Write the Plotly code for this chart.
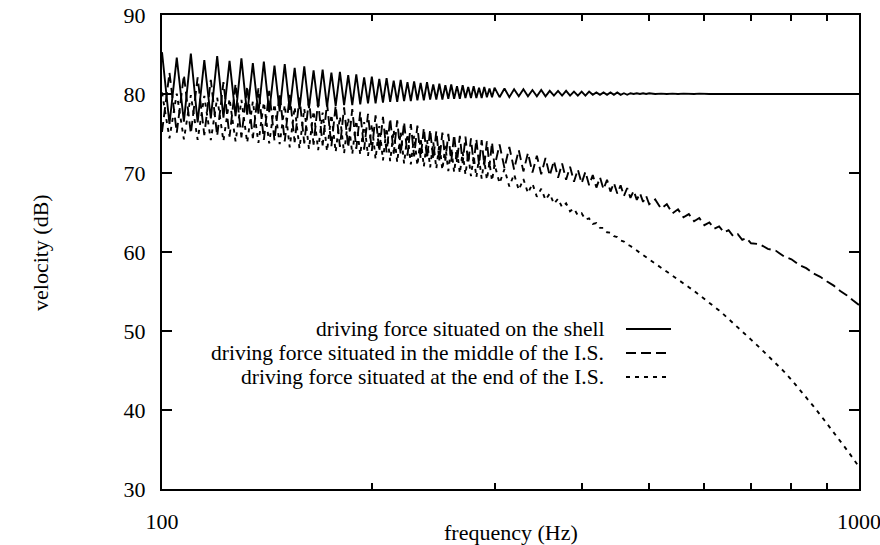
import plotly.graph_objects as go

# ---------------- data ----------------
freq = [
    100, 102.5, 105, 107.5, 110, 112.5, 115, 117.5, 120, 122.5,
    125, 127.5, 130, 132.5, 135, 137.5, 140, 142.5, 145, 147.5,
    150, 152.5, 155, 157.5, 160, 162.5, 165, 167.5, 170, 172.5,
    175, 177.5, 180, 182.5, 185, 187.5, 190, 192.5, 195, 197.5,
    200, 202.5, 205, 207.5, 210, 212.5, 215, 217.5, 220, 222.5,
    225, 227.5, 230, 232.5, 235, 237.5, 240, 242.5, 245, 247.5,
    250, 252.5, 255, 257.5, 260, 262.5, 265, 267.5, 270, 272.5,
    275, 277.5, 280, 282.5, 285, 287.5, 290, 292.5, 295, 297.5,
    300,
    305, 310, 315, 320, 325, 330, 335, 340, 345, 350,
    355, 360, 365, 370, 375, 380, 385, 390, 395, 400,
    405, 410, 415, 420, 425, 430, 435, 440, 445, 450,
    455, 460, 465, 470, 475, 480, 485, 490, 495, 500,
    510, 520, 530, 540, 550, 560, 570, 580, 590, 600,
    610, 620, 630, 640, 650, 660, 670, 680, 690, 700,
    720, 740, 760, 780, 800, 820, 840, 860, 880, 900,
    920, 940, 960, 980, 1000,
]

shell = [
    85.3, 76.2, 84.6, 76.5, 85.1, 76.4, 84.3, 76.9, 84.8, 77.0,
    84.2, 77.2, 84.5, 77.4, 83.9, 77.5, 84.1, 77.7, 83.6, 77.8,
    83.8, 78.0, 83.3, 78.1, 83.5, 78.2, 83.0, 78.3, 83.1, 78.4,
    82.7, 78.5, 82.8, 78.6, 82.4, 78.6, 82.5, 78.7, 82.1, 78.8,
    82.2, 78.8, 81.9, 78.9, 82.0, 79.0, 81.7, 79.0, 81.8, 79.1,
    81.5, 79.1, 81.6, 79.2, 81.4, 79.2, 81.5, 79.3, 81.2, 79.3,
    81.3, 79.3, 81.1, 79.4, 81.2, 79.4, 81.0, 79.4, 81.1, 79.5,
    80.9, 79.5, 81.0, 79.5, 80.8, 79.5, 80.9, 79.6, 80.7, 79.6,
    80.8,
    79.6, 80.7, 79.6, 80.6, 79.7, 80.6, 79.7, 80.5, 79.7, 80.5,
    79.7, 80.4, 79.8, 80.4, 79.8, 80.4, 79.8, 80.3, 79.8, 80.3,
    79.8, 80.3, 79.9, 80.2, 79.9, 80.2, 79.9, 80.2, 79.9, 80.2,
    79.9, 80.1, 79.9, 80.1, 80.0, 80.1, 80.0, 80.1, 80.0, 80.1,
    80.0, 80.05, 80.0, 80.05, 80.0, 80.05, 80.0, 80.0, 80.05, 80.0,
    80.0, 80.0, 80.0, 80.0, 80.0, 80.0, 80.0, 80.0, 80.0, 80.0,
    80.0, 80.0, 80.0, 80.0, 80.0, 80.0, 80.0, 80.0, 80.0, 80.0,
    80.0, 80.0, 80.0, 80.0, 80.0,
]

middle = [
    75.2, 82.7, 75.1, 82.4, 75.0, 82.1, 74.8, 81.8, 74.7, 81.5,
    74.6, 81.3, 74.5, 81.0, 74.4, 80.7, 74.2, 80.4, 74.1, 80.1,
    74.0, 79.9, 73.9, 79.55, 73.75, 79.3, 73.6, 79.1, 73.5, 78.85,
    73.4, 78.55, 73.3, 78.3, 73.2, 78.1, 73.05, 77.75, 72.95, 77.5,
    72.8, 77.3, 72.7, 77.1, 72.6, 76.9, 72.45, 76.65, 72.35, 76.45,
    72.2, 76.2, 72.1, 76.0, 71.85, 75.7, 71.8, 75.5, 71.7, 75.3,
    71.6, 75.1, 71.55, 74.95, 71.45, 74.85, 71.35, 74.7, 71.25, 74.6,
    71.2, 74.4, 71.15, 74.3, 71.05, 74.15, 70.95, 74.0, 70.85, 73.9,
    70.8,
    73.6, 70.6, 73.3, 70.45, 72.9, 70.2, 72.55, 70.05, 72.2, 69.85,
    71.9, 69.65, 71.55, 69.4, 71.2, 69.15, 70.8, 68.9, 70.45, 68.7,
    70.15, 68.45, 69.75, 68.15, 69.45, 67.95, 69.15, 67.65, 68.75, 67.4,
    68.45, 67.1, 68.1, 66.85, 67.75, 66.6, 67.45, 66.35, 67.1, 66.05,
    66.65, 65.5, 66.05, 64.9, 65.4, 64.4, 64.8, 63.9, 64.3, 63.4,
    63.75, 62.95, 63.25, 62.5, 62.75, 62.0, 62.25, 61.55, 61.75, 61.1,
    61.0, 60.4, 60.15, 59.45, 59.08, 58.37, 57.95, 57.28, 56.86, 56.26,
    55.74, 55.07, 54.53, 53.88, 53.3,
]

end = [
    80.2, 74.4, 80.05, 74.25, 79.85, 74.2, 79.75, 74.15, 79.55, 74.05,
    79.4, 74.0, 79.25, 73.85, 79.05, 73.8, 78.95, 73.75, 78.75, 73.65,
    78.6, 73.25, 78.35, 73.1, 78.15, 73.05, 77.85, 72.9, 77.65, 72.75,
    77.4, 72.65, 77.15, 72.5, 76.95, 72.4, 76.65, 72.3, 76.45, 72.15,
    76.2, 71.75, 75.95, 71.6, 75.7, 71.5, 75.45, 71.35, 75.2, 71.2,
    74.95, 71.1, 74.7, 70.95, 74.45, 70.8, 74.2, 70.7, 73.95, 70.55,
    73.7, 70.4, 73.45, 70.25, 73.2, 70.1, 72.9, 69.95, 72.65, 69.8,
    72.4, 69.6, 72.15, 69.45, 71.9, 69.3, 71.6, 69.15, 71.35, 69.0,
    71.1,
    68.7, 70.5, 68.3, 69.85, 67.85, 69.25, 67.45, 68.65, 67.0, 68.0,
    66.6, 67.4, 66.1, 66.75, 65.65, 66.15, 65.15, 65.5, 64.65, 64.9,
    64.1, 64.25, 63.55, 63.65, 63.05, 63.05, 62.5, 62.45, 62.0, 61.9,
    61.47, 61.32, 60.94, 60.76, 60.41, 60.19, 59.89, 59.62, 59.35, 59.07,
    58.55, 58.05, 57.55, 57.05, 56.55, 56.05, 55.55, 55.06, 54.57, 54.08,
    53.58, 53.09, 52.6, 52.07, 51.54, 51.02, 50.49, 49.96, 49.43, 48.91,
    47.9, 46.9, 45.9, 44.9, 43.82, 42.71, 41.6, 40.49, 39.38, 38.28,
    37.19, 36.09, 34.99, 33.9, 32.8,
]

series_names = [
    "driving force situated on the shell",
    "driving force situated in the middle of the I.S.",
    "driving force situated at the end of the I.S.",
]
y_ticks = [30, 40, 50, 60, 70, 80, 90]
x_ticks = [100, 1000]
x_minor = [200, 300, 400, 500, 600, 700, 800, 900]

# ---------------- figure ----------------
FONT = "Liberation Serif, Times New Roman, serif"
FS = 22
KEY_FS = 21.5
dashes = ["solid", "10px,5px", "4px,5px"]
values = [shell, middle, end]

fig = go.Figure()
for name, vals, dash in zip(series_names, values, dashes):
    fig.add_trace(go.Scatter(
        x=freq, y=vals, mode="lines", name=name,
        line=dict(color="black", width=1.9, dash=dash),
        showlegend=False,
    ))

W, H = 880, 545
L, R, T, B = 162, 21, 15, 56
pw, ph = W - L - R, H - T - B

def px_x(x):
    return (x - L) / pw

def px_y(y):
    return (H - B - y) / ph

# gnuplot-style key: text on the left, sample line on the right
key_rows_px = [329, 353, 377]
for name, dash, yy in zip(series_names, dashes, key_rows_px):
    fig.add_annotation(
        x=px_x(605), y=px_y(yy), xref="paper", yref="paper",
        text=name, showarrow=False, xanchor="right", yanchor="middle",
        borderpad=0,
        font=dict(family=FONT, size=KEY_FS, color="black"),
    )
    fig.add_shape(
        type="line", xref="paper", yref="paper",
        x0=px_x(626), x1=px_x(671), y0=px_y(yy), y1=px_y(yy),
        line=dict(color="black", width=1.8, dash=dash),
    )

fig.add_annotation(
    x=0.5, y=px_y(532), xref="paper", yref="paper",
    text="frequency (Hz)", showarrow=False, xanchor="center", yanchor="middle",
    font=dict(family=FONT, size=FS, color="black"),
)
fig.add_annotation(
    x=px_x(40), y=0.5, xref="paper", yref="paper",
    text="velocity (dB)", showarrow=False, textangle=-90,
    xanchor="center", yanchor="middle",
    font=dict(family=FONT, size=FS, color="black"),
)

fig.update_layout(
    width=W, height=H,
    margin=dict(l=L, r=R, t=T, b=B, autoexpand=False),
    paper_bgcolor="white", plot_bgcolor="white",
    font=dict(family=FONT, size=FS, color="black"),
    showlegend=False,
)
fig.update_xaxes(
    type="log", range=[2, 3],
    tickvals=x_ticks, ticktext=[str(v) for v in x_ticks],
    ticks="inside", ticklen=10, tickwidth=1.5, tickcolor="black",
    minor=dict(tickvals=x_minor, ticks="inside", ticklen=6,
               tickwidth=1.5, tickcolor="black", showgrid=False),
    showline=True, linecolor="black", linewidth=2, mirror="ticks",
    showgrid=False, zeroline=False, ticklabeloverflow="allow",
    ticklabelstandoff=12,
    tickfont=dict(family=FONT, size=FS, color="black"),
)
fig.update_yaxes(
    range=[30, 90], tickvals=y_ticks,
    ticks="inside", ticklen=10, tickwidth=1.5, tickcolor="black",
    showline=True, linecolor="black", linewidth=2, mirror="ticks",
    showgrid=False, zeroline=False, ticklabelstandoff=10,
    tickfont=dict(family=FONT, size=FS, color="black"),
)

fig.write_html("out.html")
